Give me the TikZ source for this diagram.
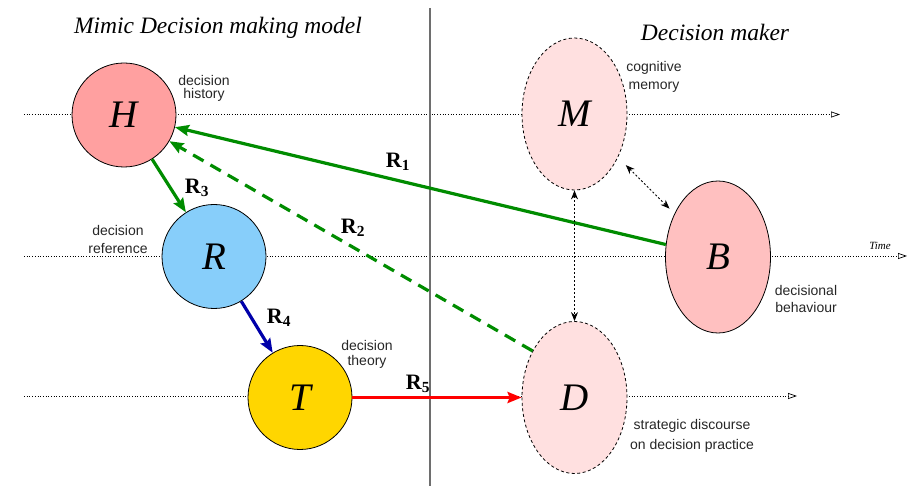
\documentclass[tikz,border=0pt]{standalone}
\usepackage{fontspec}
\setmainfont{Liberation Serif}
\setsansfont{Liberation Sans}
\usetikzlibrary{shapes.geometric,arrows.meta}
\definecolor{hcol}{RGB}{255,160,160}
\definecolor{rcol}{RGB}{135,206,250}
\definecolor{tcol}{RGB}{255,214,0}
\definecolor{mcol}{RGB}{255,224,224}
\definecolor{bcol}{RGB}{255,192,192}
\definecolor{gcol}{RGB}{0,140,0}
\definecolor{bluecol}{RGB}{0,0,170}
\definecolor{vcol}{RGB}{110,110,110}
\tikzset{
  circnode/.style={circle,draw=black,line width=0.8pt,inner sep=0pt,minimum size=104pt,font=\fontsize{39}{42}\selectfont\itshape},
  ellnode/.style={ellipse,draw=black,line width=0.8pt,inner sep=0pt,minimum width=105pt,minimum height=152pt,font=\fontsize{39}{42}\selectfont\itshape},
  dashell/.style={ellnode,dash pattern=on 3pt off 2.5pt,fill=mcol},
  sidelabel/.style={font=\sffamily\fontsize{14}{17.5}\selectfont,align=center,text=black!85},
  rlabel/.style={font=\fontsize{22}{24}\selectfont\bfseries},
  title/.style={font=\fontsize{23.5}{26}\selectfont\itshape},
  timeline/.style={dotted,line width=0.7pt,-{Triangle[open,length=9pt,width=6pt]}},
  relarrow/.style={line width=3.2pt,-{Stealth[length=14pt,width=11pt,inset=2pt]}},
  dblarrow/.style={line width=0.8pt,dash pattern=on 2pt off 2pt,{Stealth[length=9pt,width=7pt]}-{Stealth[length=9pt,width=7pt]}}
}
\begin{document}
\begin{tikzpicture}[x=1pt,y=-1pt]
\useasboundingbox (0,0) rectangle (919,486);
% time lines
\coordinate (l1s) at (24,114.5);
\coordinate (l1e) at (840,114.5);
\coordinate (l2s) at (24,256);
\coordinate (l2e) at (907,256);
\coordinate (l3s) at (24,396);
\coordinate (l3e) at (797,396);
\draw[timeline] (l1s) -- (l1e);
\draw[timeline] (l2s) -- (l2e);
\draw[timeline] (l3s) -- (l3e);
% vertical divider
\coordinate (vt) at (430,8);
\coordinate (vb) at (430,486);
\draw[vcol,line width=1.6pt] (vt) -- (vb);
% titles
\node[title] (t1) at (218,28) {Mimic Decision making model};
\node[title] (t2) at (715,32) {Decision maker};
\node[font=\fontsize{11}{12}\selectfont\itshape] (time) at (880,246) {Time};
% nodes
\node[circnode,fill=hcol] (H) at (124,115) {H};
\node[circnode,fill=rcol] (R) at (214,256.5) {R};
\node[circnode,fill=tcol] (T) at (300,397.5) {T};
\node[dashell] (M) at (574.5,114) {M};
\node[ellnode,fill=bcol] (B) at (718,257) {B};
\node[dashell] (D) at (574.5,397.5) {D};
% side labels
\node[sidelabel] (lh) at (204,88) {decision\\[-4.5pt]history};
\node[sidelabel] (lr) at (118,239.5) {decision\\reference};
\node[sidelabel] (lt) at (367,354) {decision\\[-2.5pt]theory};
\node[sidelabel] (lm) at (654,77) {cognitive\\memory};
\node[sidelabel] (lb) at (806,299) {decisional\\behaviour};
\node[sidelabel] (ld) at (692,436) {strategic discourse\\[3pt]on decision practice};
% relations
\draw[relarrow,gcol] (B) -- (H);
\draw[relarrow,gcol,dash pattern=on 12pt off 8pt] (D.132) -- (H);
\draw[relarrow,gcol] (H) -- (R);
\draw[relarrow,bluecol] (R) -- (T);
\draw[relarrow,red] (T.east) -- (D.west);
\draw[dblarrow] (M.south) -- (D.north);
\draw[dblarrow,shorten <=11pt,shorten >=7pt] (M) -- (B);
% relation labels
\node[rlabel] (r1) at (398,162) {R\textsubscript{1}};
\node[rlabel] (r2) at (353,228) {R\textsubscript{2}};
\node[rlabel] (r3) at (197,188) {R\textsubscript{3}};
\node[rlabel] (r4) at (279,318) {R\textsubscript{4}};
\node[rlabel] (r5) at (418,384) {R\textsubscript{5}};
\end{tikzpicture}
\end{document}
